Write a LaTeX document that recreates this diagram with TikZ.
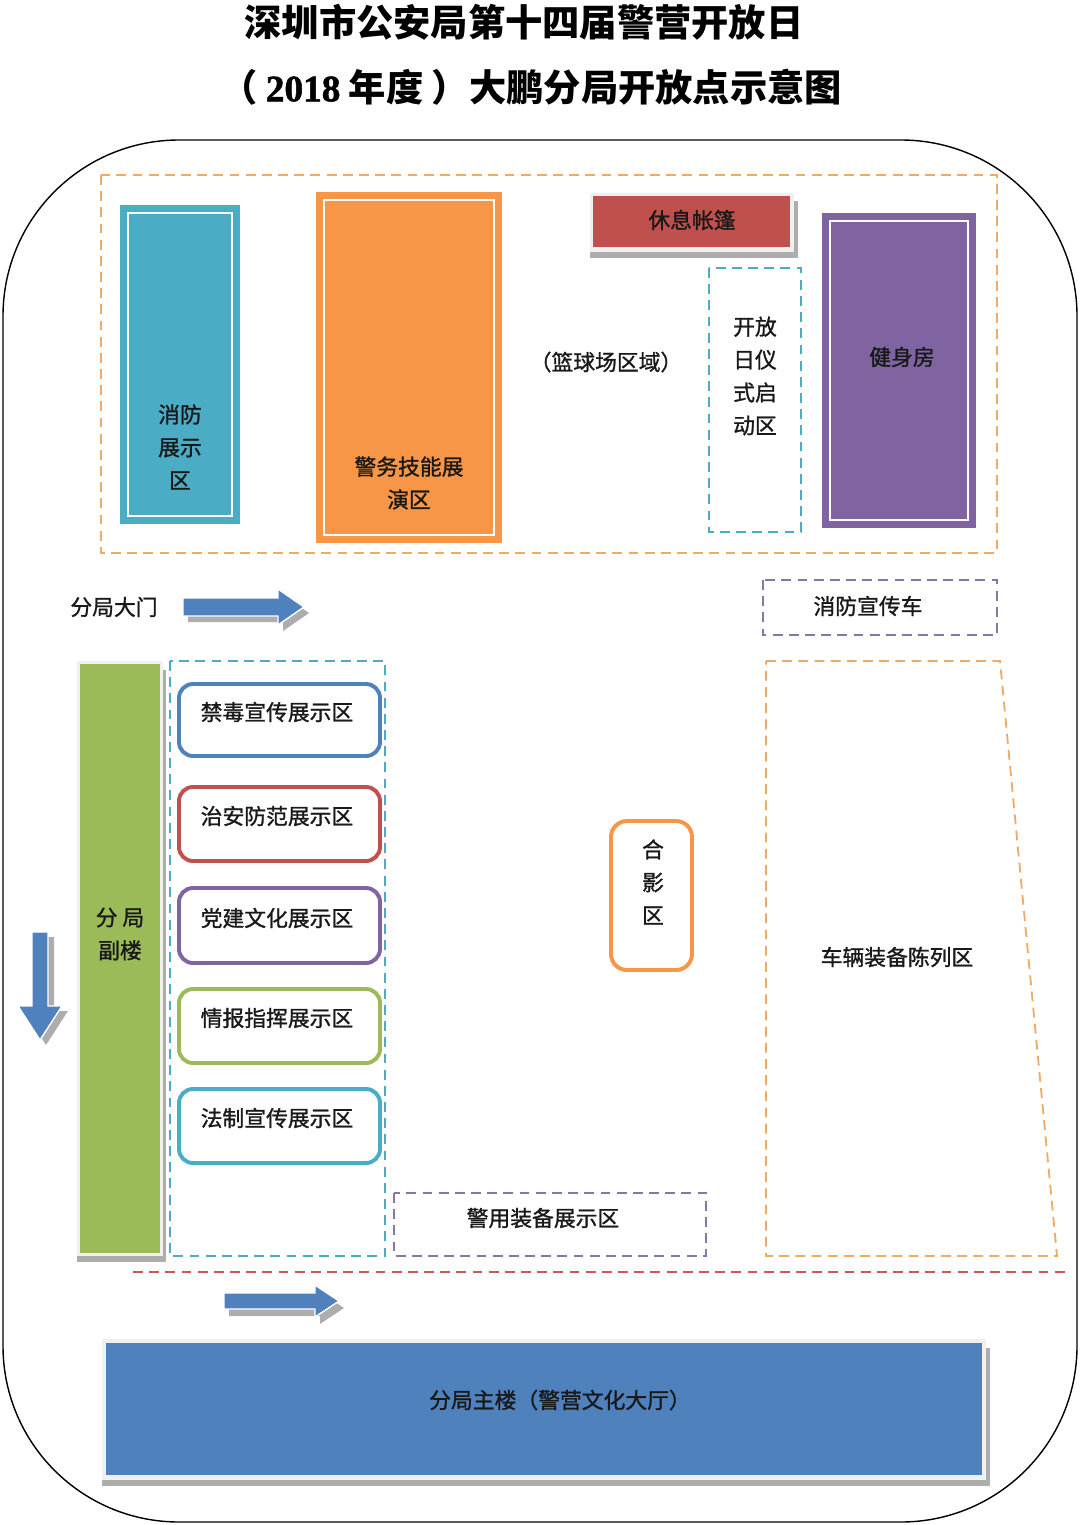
\documentclass[tikz,border=0pt]{standalone}
\usepackage{fontspec}
\setmainfont{Noto Sans CJK SC}
\newfontfamily\lblfont[FakeBold=1.2]{Noto Sans CJK SC}
\newfontfamily\numfont[FakeBold=1.5]{Liberation Serif Bold}
\usepackage{tikz}
\usetikzlibrary{positioning}
\definecolor{aquaA}{HTML}{4BACC6}
\definecolor{orangeA}{HTML}{F79646}
\definecolor{redA}{HTML}{C0504D}
\definecolor{purpleA}{HTML}{8064A2}
\definecolor{greenA}{HTML}{9BBB59}
\definecolor{blueA}{HTML}{4F81BD}
\definecolor{orangeD}{RGB}{240,170,100}
\definecolor{purpleD}{RGB}{130,120,165}
\definecolor{redD}{RGB}{205,90,90}

\begin{document}
\begin{tikzpicture}[x=0.025cm,y=-0.025cm,
			lbl/.style={font=\lblfont\fontsize{15.5pt}{23.4pt}\selectfont, align=center, inner sep=0pt, text=black!90},
			ttl/.style={font=\fontsize{26.5pt}{30pt}\selectfont\bfseries, inner sep=0pt},
			dashzone/.style={dash pattern=on 7pt off 4.5pt, line width=1.3pt},
			showbox/.style={line width=2.8pt, rounded corners=0.35cm},
			inline/.style={draw=white, line width=2pt},
			shadow/.style={fill=black!32},
			bigarrow/.style={fill=blueA, draw=white, line width=1pt}
		]
		\useasboundingbox (0,0) rectangle (1080,1525);

		\node[ttl] (title1) at (524,22) {深圳市公安局第十四届警营开放日};
		\node[ttl] (title2) at (531,87) {（ {\numfont 2018} 年度 ）大鹏分局开放点示意图};

		\draw[line width=1pt, rounded corners=4.4cm] (3,140) rectangle (1077,1522);

		\draw[dashzone, draw=orangeD] (101,175) rectangle (997,553);

		\fill[aquaA] (120,205) rectangle (240,524);
		\draw[inline] (128,213) rectangle (232,516);
		\node[lbl] (xiaofang) at (180,447) {消防\\展示\\区};

		\fill[orangeA] (316,192) rectangle (502,543);
		\draw[inline] (324,200) rectangle (494,535);
		\node[lbl] (jingwu) at (409,483) {警务技能展\\演区};

		\fill[shadow] (590,201) rectangle (798,258);
		\fill[black!6] (590,193) rectangle (794,252);
		\fill[redA] (593,196) rectangle (790,247);
		\node[lbl] (zhangpeng) at (692,220) {休息帐篷};

		\node[lbl] (lanqiu) at (606,362) {（篮球场区域）};

		\draw[dashzone, draw=aquaA] (709,268) rectangle (801,532);
		\node[lbl] (yishi) at (755,376) {开放\\日仪\\式启\\动区};

		\fill[purpleA] (822,213) rectangle (976,528);
		\draw[inline] (830,221) rectangle (968,520);
		\node[lbl] (jianshen) at (902,357) {健身房};

		\node[lbl] (damen) at (114,607) {分局大门};
		\fill[shadow, shift={(5,6)}] (183,598) -- (278,598) -- (278,589) -- (304,607) -- (278,625) -- (278,616) -- (183,616) -- cycle;
		\draw[bigarrow] (183,598) -- (278,598) -- (278,589) -- (304,607) -- (278,625) -- (278,616) -- (183,616) -- cycle;

		\draw[dashzone, draw=purpleD] (763,580) rectangle (997,635);
		\node[lbl] (xuanchuanche) at (868,606) {消防宣传车};

		\fill[shadow] (77,670) rectangle (166,1262);
		\fill[black!6] (77,661) rectangle (163,1256);
		\fill[greenA] (80,664) rectangle (160,1253);
		\node[lbl] (fulou) at (120,934) {分 局\\副楼};

		\fill[shadow, shift={(6,5)}] (32,932) -- (48,932) -- (48,1006) -- (62,1006) -- (40,1040) -- (18,1006) -- (32,1006) -- cycle;
		\draw[bigarrow] (32,932) -- (48,932) -- (48,1006) -- (62,1006) -- (40,1040) -- (18,1006) -- (32,1006) -- cycle;

		\draw[dashzone, draw=aquaA] (170,661) rectangle (385,1256);

		\draw[showbox, draw=blueA] (179,684) rectangle (380,756);
		\node[lbl] (jindu) at (277,712) {禁毒宣传展示区};
		\draw[showbox, draw=redA] (179,787) rectangle (380,861);
		\node[lbl] (zhian) at (277,816) {治安防范展示区};
		\draw[showbox, draw=purpleA] (179,888) rectangle (380,963);
		\node[lbl] (dangjian) at (277,918) {党建文化展示区};
		\draw[showbox, draw=greenA] (179,989) rectangle (380,1063);
		\node[lbl] (qingbao) at (277,1018) {情报指挥展示区};
		\draw[showbox, draw=aquaA] (179,1089) rectangle (380,1163);
		\node[lbl] (fazhi) at (277,1118) {法制宣传展示区};

		\draw[showbox, draw=orangeA, rounded corners=0.4cm] (611,821) rectangle (692,970);
		\node[lbl] (heying) at (653,882) {合\\影\\区};

		\draw[dashzone, draw=orangeD] (766,661) -- (1000,661) -- (1057,1256) -- (766,1256) -- cycle;
		\node[lbl] (cheliang) at (897,957) {车辆装备陈列区};

		\draw[dashzone, draw=purpleD] (394,1193) rectangle (706,1256);
		\node[lbl] (jingyong) at (543,1218) {警用装备展示区};

		\draw[dashzone, draw=redD] (133,1272) -- (1068,1272);

		\fill[shadow, shift={(5,7)}] (224,1293) -- (315,1293) -- (315,1285) -- (339,1301) -- (315,1317) -- (315,1309) -- (224,1309) -- cycle;
		\draw[bigarrow] (224,1293) -- (315,1293) -- (315,1285) -- (339,1301) -- (315,1317) -- (315,1309) -- (224,1309) -- cycle;

		\fill[shadow] (102,1348) rectangle (990,1486);
		\fill[black!6] (102,1339) rectangle (986,1480);
		\fill[blueA] (106,1343) rectangle (982,1475);
		\node[lbl] (zhulou) at (560,1400) {分局主楼（警营文化大厅）};

	\end{tikzpicture}
\end{document}
